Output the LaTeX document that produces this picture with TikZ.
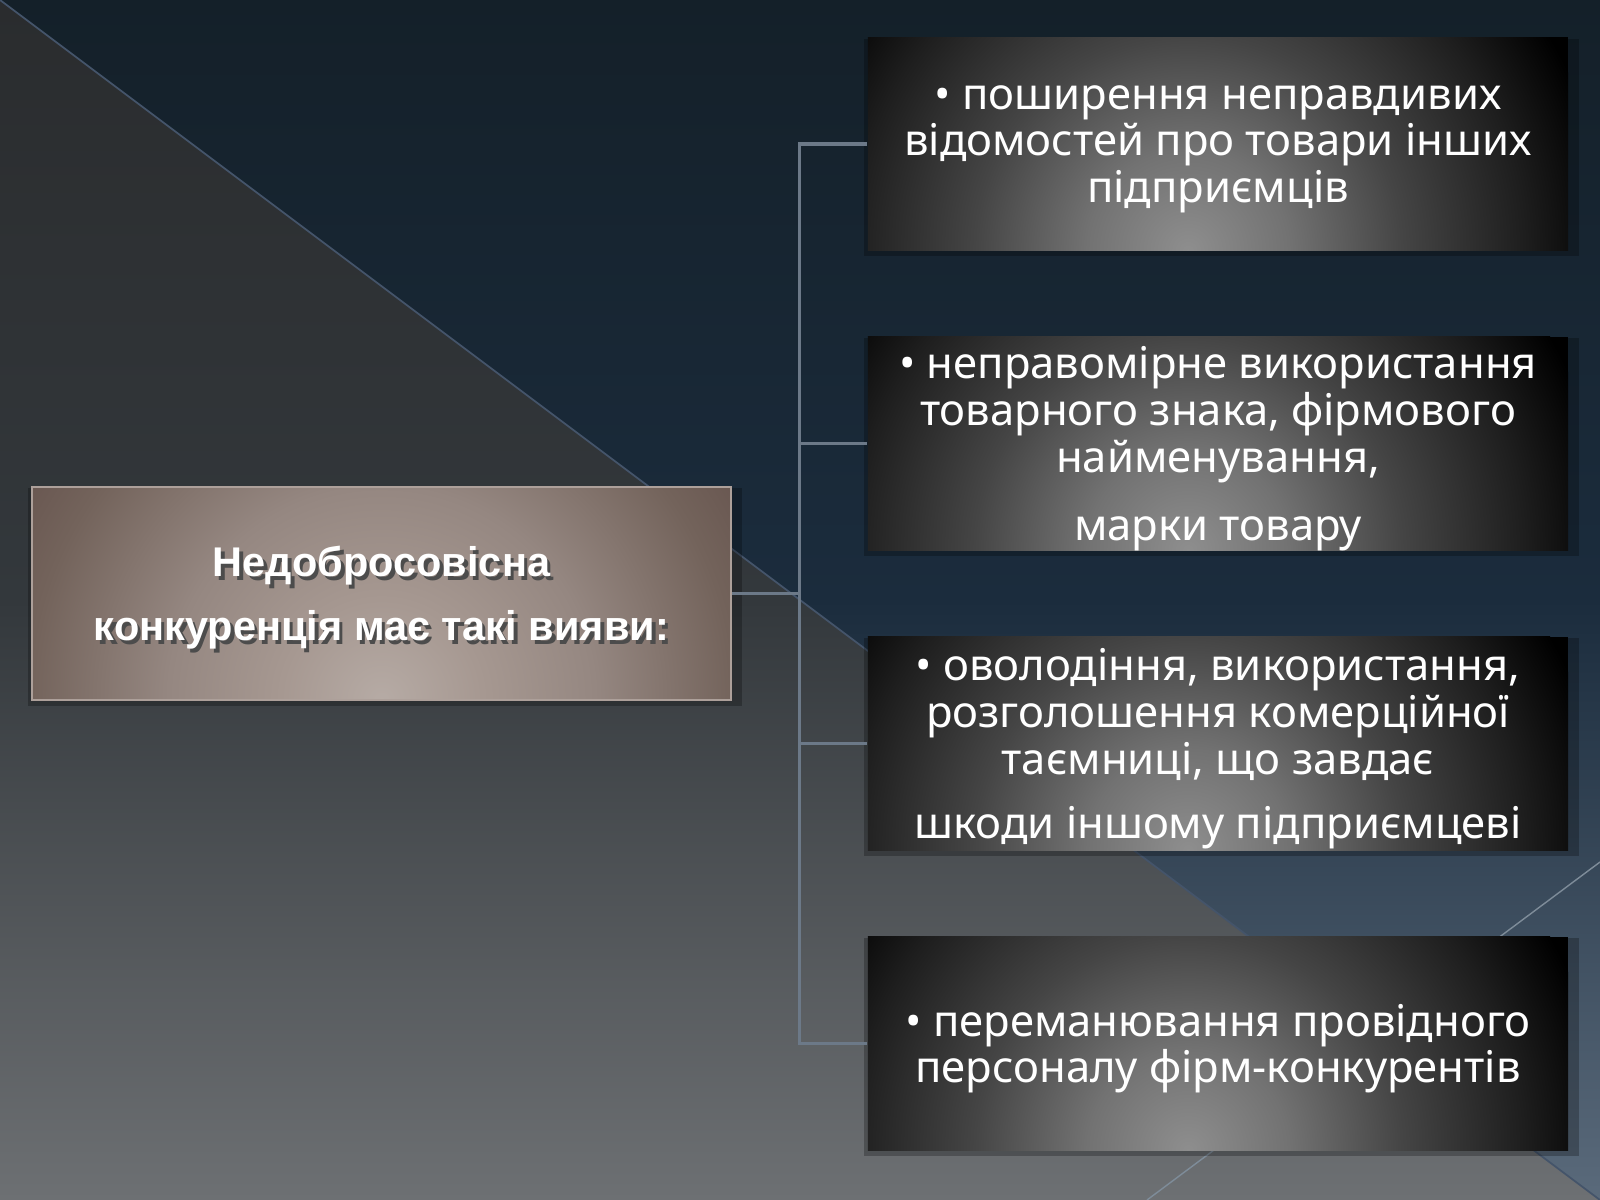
\documentclass[tikz,border=0pt]{standalone}
\usepackage{fontspec}
\setmainfont{Noto Sans}
\newfontfamily\headfont{Liberation Sans}
\usetikzlibrary{calc,shadows}

\definecolor{navytop}{HTML}{142029}
\definecolor{navymid}{HTML}{1B2C3D}
\definecolor{navybot}{HTML}{5A6A7B}
\definecolor{slatetop}{HTML}{2A2C2E}
\definecolor{slatemid}{HTML}{33383C}
\definecolor{slatebot}{HTML}{6D7073}
\definecolor{seamblue}{HTML}{44546A}
\definecolor{seamlight}{HTML}{7E8C99}
\definecolor{linkgray}{HTML}{6C7988}
\definecolor{glowA}{HTML}{8E8E8E}
\definecolor{glowB}{HTML}{727272}
\definecolor{glowC}{HTML}{454545}
\definecolor{glowD}{HTML}{1E1E1E}
\definecolor{taupeA}{HTML}{B6ABA5}
\definecolor{taupeB}{HTML}{A69891}
\definecolor{taupeC}{HTML}{958781}
\definecolor{taupeD}{HTML}{73635B}
\definecolor{taupeE}{HTML}{685650}
\definecolor{taupeline}{HTML}{ADA09A}

% the shaded disc is mapped onto the inner 25bp, so the stops stop there
\pgfdeclareradialshading{itemglow}{\pgfpoint{0bp}{0bp}}{color(0bp)=(glowA); color(6bp)=(glowB); color(12.7bp)=(glowC); color(20bp)=(glowD); color(25bp)=(black); color(50bp)=(black)}
\pgfdeclareradialshading{headglow}{\pgfpoint{0bp}{0bp}}{color(0bp)=(taupeA); color(6bp)=(taupeB); color(12.7bp)=(taupeC); color(21bp)=(taupeD); color(25bp)=(taupeE); color(50bp)=(taupeE)}

\newcommand\dropped[1]{\makebox[0pt][l]{\color{black!70}\hspace{1pt}\raisebox{-1pt}{#1}}#1}

\tikzset{
  boxshadow/.style={general shadow={fill=black, opacity=0.25, shadow scale=1.02,
    shadow xshift=1pt, shadow yshift=-1pt, path picture={}}},
  itembox/.style={fill=black, minimum width=7cm, minimum height=2.13cm, inner sep=0pt,
    align=center, text=white, font=\fontsize{12.4}{13.3}\selectfont, text depth=0pt, boxshadow,
    path picture={\shade[shading=itemglow] ([xshift=-0.3cm]path picture bounding box.south) circle (4.2cm);}},
  headbox/.style={fill=taupeE, draw=taupeline, line width=0.6pt, minimum width=6.99cm, minimum height=2.13cm,
    inner sep=0pt, align=center, text=white, font=\headfont\bfseries\fontsize{11.8}{18.2}\selectfont,
    text depth=0pt, boxshadow,
    path picture={\shade[shading=headglow] (path picture bounding box.south) circle (4.2cm);}},
  link/.style={draw=linkgray, line width=1pt},
  seam/.style={draw=seamblue, line width=0.5pt}
}

\begin{document}
\begin{tikzpicture}[x=0.01cm, y=-0.01cm]
  \useasboundingbox (0,0) rectangle (1600,1200);
  % backdrop
  \shade[top color=navytop, bottom color=navybot, middle color=navymid] (0,0) rectangle (1600,1200);
  \shade[top color=slatetop, bottom color=slatebot, middle color=slatemid] (0,0) -- (1600,1200) -- (0,1200) -- cycle;
  \draw[seam] (0,0) -- (1600,1200);
  \draw[seam, draw=seamlight, line width=0.4pt] (1147,1200) -- (1600,862);
  % boxes
  \node[headbox] (head) at (381.5,593.5) {\dropped{Недобросовісна}\\\dropped{конкуренція має такі вияви:}};
  \node[itembox] (item1) at (1218,144) {• поширення неправдивих\\відомостей про товари інших\\підприємців};
  \node[itembox] (item2) at (1218,443.5) {• неправомірне використання\\товарного знака, фірмового\\найменування,\\[6pt]марки товару};
  \node[itembox] (item3) at (1218,743.5) {• оволодіння, використання,\\розголошення комерційної\\таємниці, що завдає\\[5pt]шкоди іншому підприємцеві};
  \node[itembox] (item4) at (1218,1043.5) {• переманювання провідного\\персоналу фірм-конкурентів};
  % connectors
  \coordinate (hub) at ($(head.east)!0.5!(head.east -| item1.west)$);
  \draw[link] (head.east) -- (hub);
  \foreach \i in {1,...,4}
    \draw[link] (hub) |- (item\i.west);
\end{tikzpicture}
\end{document}
